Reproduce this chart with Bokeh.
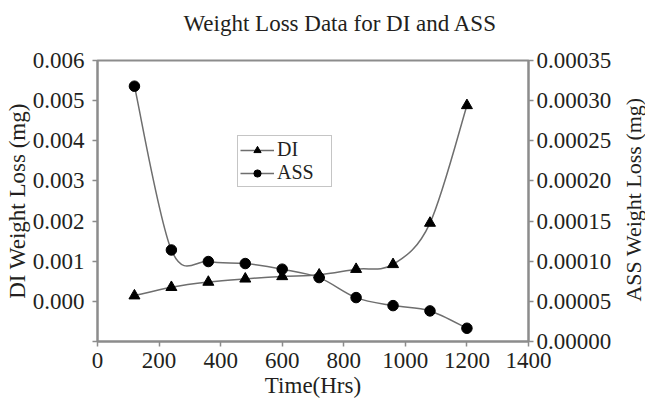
import math
from bokeh.plotting import figure
from bokeh.models import (Range1d, LinearAxis, FixedTicker, NumeralTickFormatter,
                          Legend, LegendItem, ColumnDataSource, Label)
from bokeh.embed import file_html
from bokeh.resources import INLINE

# ---- data ----
time_hrs = [120, 240, 360, 480, 600, 720, 840, 960, 1080, 1200]
di_loss = [0.00014, 0.00035, 0.00048, 0.00056, 0.00062, 0.00066, 0.00080, 0.00092, 0.00195, 0.00488]
ass_loss = [0.000318, 0.000114, 0.0000996, 0.0000971, 0.0000901, 0.0000796,
            0.0000547, 0.0000447, 0.0000381, 0.0000165]
x_ticks = [0, 200, 400, 600, 800, 1000, 1200, 1400]
di_ticks = [0.000, 0.001, 0.002, 0.003, 0.004, 0.005, 0.006]
ass_ticks = [0.0, 0.00005, 0.00010, 0.00015, 0.00020, 0.00025, 0.00030, 0.00035]

FONT = "Liberation Serif"
TXT = "#231f20"
AX = "#8c8c8c"
LINE = "#6e6e6e"


def smooth_segments(xs, ys):
    """Catmull-Rom style bezier control points (Excel-like smoothed line)."""
    n = len(xs)
    d = dict(x0=[], y0=[], x1=[], y1=[], cx0=[], cy0=[], cx1=[], cy1=[])
    for i in range(n - 1):
        p0 = max(i - 1, 0)
        p3 = min(i + 2, n - 1)
        d["x0"].append(xs[i]); d["y0"].append(ys[i])
        d["x1"].append(xs[i + 1]); d["y1"].append(ys[i + 1])
        d["cx0"].append(xs[i] + (xs[i + 1] - xs[p0]) / 6.0)
        d["cy0"].append(ys[i] + (ys[i + 1] - ys[p0]) / 6.0)
        d["cx1"].append(xs[i + 1] - (xs[p3] - xs[i]) / 6.0)
        d["cy1"].append(ys[i + 1] - (ys[p3] - ys[i]) / 6.0)
    return ColumnDataSource(d)


p = figure(width=645, height=405, output_backend="svg", toolbar_location=None,
           x_range=Range1d(0, 1400), y_range=Range1d(-0.001, 0.006),
           min_border_left=97, min_border_right=117, min_border_top=60,
           min_border_bottom=64)
p.extra_y_ranges = {"ass": Range1d(0, 0.00035)}

p.title.text = "Weight Loss Data for DI and ASS\n"
p.title.text_font = FONT
p.title.text_font_size = "23px"
p.title.text_font_style = "normal"
p.title.text_color = TXT
p.title.text_line_height = 1.0
p.title.align = "left"
p.title.offset = 86
p.title.standoff = 0

p.xgrid.visible = False
p.ygrid.visible = False
p.outline_line_color = AX
p.outline_line_width = 2
p.background_fill_color = "white"
p.border_fill_color = "white"


def style_axis(ax):
    ax.axis_line_color = AX
    ax.axis_line_width = 2
    ax.major_tick_line_color = AX
    ax.major_tick_line_width = 1.5
    ax.major_tick_in = 0
    ax.major_tick_out = 5
    ax.minor_tick_line_color = AX
    ax.minor_tick_line_width = 1.5
    ax.minor_tick_in = 0
    ax.minor_tick_out = 5
    ax.major_label_text_font = FONT
    ax.major_label_text_font_size = "23px"
    ax.major_label_text_color = TXT
    ax.axis_label_text_font = FONT
    ax.axis_label_text_font_size = "23px"
    ax.axis_label_text_font_style = "normal"
    ax.axis_label_text_color = TXT


xa = p.xaxis[0]
xa.ticker = FixedTicker(ticks=x_ticks, minor_ticks=[])
xa.axis_label = "Time(Hrs)"
style_axis(xa)
xa.major_label_standoff = 6
xa.axis_label_standoff = 2

ya = p.yaxis[0]
ya.ticker = FixedTicker(ticks=di_ticks, minor_ticks=[-0.001])
ya.formatter = NumeralTickFormatter(format="0.000")
ya.axis_label = "DI Weight Loss (mg)"
style_axis(ya)
ya.major_label_standoff = 8
ya.axis_label_standoff = 0

ra = LinearAxis(y_range_name="ass")
ra.ticker = FixedTicker(ticks=ass_ticks, minor_ticks=[])
ra.formatter = NumeralTickFormatter(format="0.00000")
style_axis(ra)
ra.major_label_standoff = 3
p.add_layout(ra, "right")

# right axis title, reading bottom-to-top like the reference
p.add_layout(Label(x=19, y=142, x_units="screen", y_units="screen",
                   text="ASS Weight Loss (mg)", angle=math.pi / 2,
                   text_align="center", text_baseline="middle",
                   text_font=FONT, text_font_size="22px", text_color=TXT), "right")

# smoothed lines
di_curve = p.bezier(x0="x0", y0="y0", x1="x1", y1="y1", cx0="cx0", cy0="cy0",
                    cx1="cx1", cy1="cy1", source=smooth_segments(time_hrs, di_loss),
                    line_color=LINE, line_width=1.5)
ass_curve = p.bezier(x0="x0", y0="y0", x1="x1", y1="y1", cx0="cx0", cy0="cy0",
                     cx1="cx1", cy1="cy1", source=smooth_segments(time_hrs, ass_loss),
                     line_color=LINE, line_width=1.5, y_range_name="ass")

di_pts = p.scatter(time_hrs, di_loss, marker="triangle", size=11,
                   fill_color="black", line_color="black")
ass_pts = p.scatter(time_hrs, ass_loss, marker="circle", size=10.5,
                    fill_color="black", line_color="black", y_range_name="ass")

legend = Legend(items=[LegendItem(label="DI", renderers=[di_curve, di_pts]),
                       LegendItem(label="ASS", renderers=[ass_curve, ass_pts])],
                location=(140, 154))
legend.label_text_font = FONT
legend.label_text_font_size = "20px"
legend.label_text_color = TXT
legend.label_height = 18
legend.label_width = 52
legend.glyph_height = 18
legend.glyph_width = 34
legend.label_standoff = 3
legend.spacing = 0
legend.padding = 2
legend.margin = 0
legend.border_line_color = AX
legend.border_line_width = 1.5
legend.background_fill_color = "white"
p.add_layout(legend)

open("out.html", "w").write(file_html(p, INLINE))
